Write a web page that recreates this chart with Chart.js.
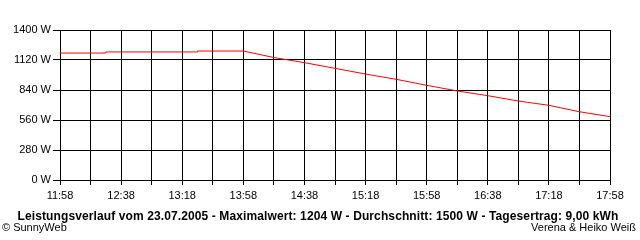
<!DOCTYPE html>
<html>
<head>
<meta charset="utf-8">
<script src="https://cdn.jsdelivr.net/npm/chart.js@4.4.0/dist/chart.umd.min.js"></script>
<style>
    body { margin: 0; background: #fff; }
    #wrap { position: relative; width: 640px; height: 240px; font-family: "Liberation Sans", Arial, sans-serif; color: #000; }
    #Chart { position: absolute; left: 0; top: 0; }
    #title { position: absolute; left: 0; top: 209px; width: 636px; text-align: center; font-weight: bold; font-size: 12px; line-height: 14px; letter-spacing: 0.11px; }
    #left { position: absolute; left: 2px; top: 221px; font-size: 11px; line-height: 13px; }
    #right { position: absolute; right: 4px; top: 221px; font-size: 11px; line-height: 13px; }
</style>
</head>
<body>
<div id="wrap">
    <canvas id="Chart" width="640" height="240"></canvas>
    <div id="title">Leistungsverlauf vom 23.07.2005 - Maximalwert: 1204 W - Durchschnitt: 1500 W - Tagesertrag: 9,00 kWh</div>
    <div id="left">© SunnyWeb</div>
    <div id="right">Verena &amp; Heiko Weiß</div>
</div>
<script>
// Minuten seit 11:58
const minutes = [0, 30, 30, 90, 90, 120, 140, 160, 180, 200, 220, 240, 260, 280, 300, 320, 340, 360];
const power = [1185, 1185, 1195, 1195, 1204, 1204, 1143, 1095, 1042, 989, 940, 884, 831, 787, 737, 697, 637, 591];
const yTicks = [0, 280, 560, 840, 1120, 1400];
const startHour = 11, startMin = 58;

function timeLabel(m) {
    let t = startHour * 60 + startMin + m;
    let h = Math.floor(t / 60);
    let mm = t % 60;
    return h + ':' + (mm < 10 ? '0' : '') + mm;
}

let points = [];
minutes.forEach((m, i) => {
    points.push({x: m, y: power[i]});
});

const canvas = document.getElementById('Chart');
const ctx = canvas.getContext('2d');
const chart = new Chart(ctx, {
    type: 'line',
    data: {
        datasets: [{
            data: points,
            borderColor: '#ff0000',
            borderWidth: 1,
            pointRadius: 0,
            fill: false,
            tension: 0
        }]
    },
    options: {
        responsive: false,
        animation: false,
        layout: { padding: { top: 30, right: 30, left: 0, bottom: 0 } },
        plugins: { legend: { display: false }, tooltip: { enabled: false } },
        scales: {
            x: {
                type: 'linear',
                min: 0,
                max: 360,
                afterFit: (s) => { s.height = 60; },
                ticks: {
                    stepSize: 20,
                    autoSkip: false,
                    maxRotation: 0,
                    padding: 4,
                    color: '#000',
                    font: { family: 'Liberation Sans', size: 11 },
                    callback: (v) => (v % 40 === 0 ? timeLabel(v) : '')
                },
                grid: { color: '#000', lineWidth: 1, tickLength: 5 },
                border: { color: '#000' }
            },
            y: {
                min: 0,
                max: 1400,
                afterFit: (s) => { s.width = 60; },
                afterBuildTicks: (s) => { s.ticks = yTicks.map(v => ({value: v})); },
                ticks: {
                    padding: 2,
                    color: '#000',
                    font: { family: 'Liberation Sans', size: 11 },
                    callback: (v) => v + ' W'
                },
                grid: { color: '#000', lineWidth: 1, tickLength: 7 },
                border: { color: '#000' }
            }
        }
    }
});
</script>
</body>
</html>
